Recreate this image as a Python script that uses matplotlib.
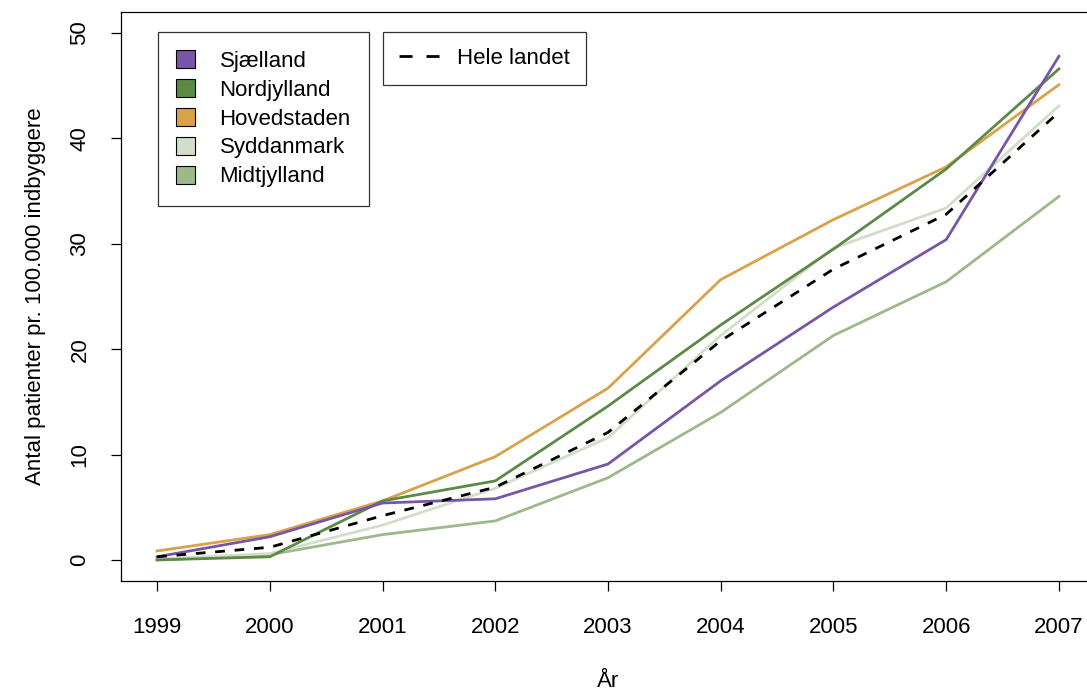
import numpy as np
import matplotlib.pyplot as plt
from matplotlib.patches import Patch
from matplotlib.lines import Line2D

plt.rcParams['font.family'] = ['Liberation Sans', 'DejaVu Sans']

years = [1999, 2000, 2001, 2002, 2003, 2004, 2005, 2006, 2007]

sjaelland = [0.3, 2.2, 5.4, 5.8, 9.1, 17.0, 24.0, 30.4, 47.8]
nordjylland = [0.0, 0.3, 5.6, 7.5, 14.6, 22.3, 29.5, 37.1, 46.6]
hovedstaden = [0.85, 2.4, 5.6, 9.8, 16.3, 26.6, 32.3, 37.3, 45.1]
syddanmark = [0.1, 0.6, 3.3, 6.8, 11.6, 21.3, 29.6, 33.4, 43.1]
midtjylland = [0.0, 0.5, 2.4, 3.7, 7.8, 14.0, 21.3, 26.4, 34.5]
hele_landet = [0.3, 1.2, 4.2, 6.9, 12.1, 20.8, 27.6, 32.8, 42.5]

names = ["Sjælland", "Nordjylland", "Hovedstaden", "Syddanmark", "Midtjylland"]
series = [sjaelland, nordjylland, hovedstaden, syddanmark, midtjylland]
colors = ["#7656a5", "#5c8a46", "#d9a24a", "#d2dec8", "#9cb98a"]

fs = 16

fig = plt.figure(figsize=(10.87, 6.92), dpi=100)
ax = fig.add_axes([121/1087, 1 - 581/692, (1095 - 121)/1087, (581 - 12)/692])

# draw back to front so Sjælland ends on top
for vals, c in list(zip(series, colors))[::-1]:
    ax.plot(years, vals, color=c, lw=2)
ax.plot(years, hele_landet, color='black', lw=2, ls=(0, (3.5, 3.5)))

ax.set_xlim(1999 - 0.32, 2007 + 0.32)
ax.set_ylim(-2, 52)
ax.set_xticks(years)
ax.set_yticks([0, 10, 20, 30, 40, 50])
ax.tick_params(direction='out', length=7, width=0.9, labelsize=fs, pad=19)
ax.tick_params(axis='y', labelrotation=90, pad=15)
for lab in ax.get_yticklabels():
    lab.set_va('center')
for s in ax.spines.values():
    s.set_linewidth(0.9)

ax.set_xlabel("År", fontsize=fs, labelpad=24)
ax.set_ylabel("Antal patienter pr. 100.000 indbyggere", fontsize=fs, labelpad=17)

handles = [Patch(facecolor=c, edgecolor='black', lw=0.8) for c in colors]
leg1 = ax.legend(handles, names, loc='upper left', bbox_to_anchor=(37/974, 1 - 20/569),
                 fontsize=fs, frameon=True, fancybox=False, edgecolor='black',
                 handlelength=0.85, handleheight=0.85, handletextpad=1.1,
                 labelspacing=0.33, borderpad=0.82, borderaxespad=0)
leg1.get_frame().set_linewidth(0.9)
ax.add_artist(leg1)

leg2 = ax.legend([Line2D([], [], color='black', lw=2, ls=(0, (4.7, 5)))], ["Hele landet"],
                 loc='upper left', bbox_to_anchor=(262/974, 1 - 20/569),
                 fontsize=fs, frameon=True, fancybox=False, edgecolor='black',
                 handlelength=1.8, handletextpad=0.8, borderpad=0.72, borderaxespad=0)
leg2.get_frame().set_linewidth(0.9)

fig.savefig("out.png", dpi=100)
